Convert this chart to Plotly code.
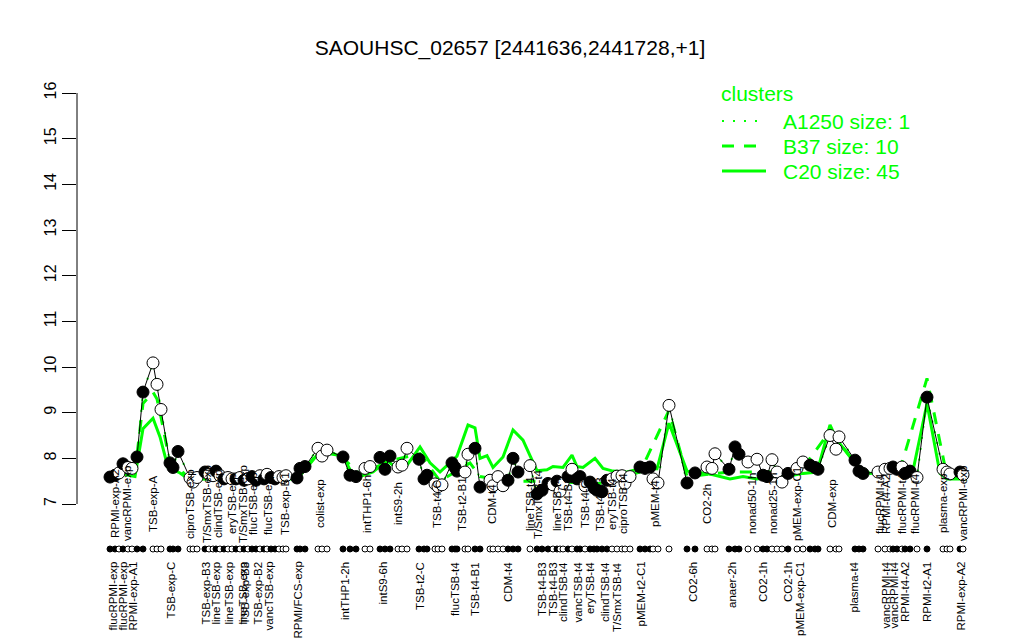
import plotly.graph_objects as go

# ---------------- data ----------------
title_text = "SAOUHSC_02657 [2441636,2441728,+1]"
y_ticks = [7, 8, 9, 10, 11, 12, 13, 14, 15, 16]

# condition positions (arbitrary along-axis units), expression values, filled flag (1=filled)
pos = [0, 5, 9, 13, 18, 22, 27, 33, 43, 47, 51, 60, 63, 68, 80, 83, 87, 95, 99, 103, 106, 110,
       114, 118, 122, 126, 130, 134, 138, 142, 146, 150, 154, 157, 161, 165, 169, 173, 176, 187,
       190, 195, 208, 212, 217, 233, 240, 246, 255, 260, 270, 275, 280, 288, 292, 297, 309, 314,
       317, 325, 328, 332, 342, 345, 347, 355, 358, 365, 370, 380, 383, 388, 393, 398, 403, 408,
       420, 427, 432, 438, 443, 447, 450, 453, 458, 462, 467, 470, 475, 480, 484, 487, 492, 497,
       502, 507, 512, 515, 520, 530, 535, 540, 543, 548, 559, 577, 585, 597, 602, 605, 619, 625,
       629, 638, 647, 653, 657, 662, 667, 672, 678, 687, 693, 700, 705, 708, 720, 726, 729, 745,
       749, 753, 768, 775, 780, 783, 787, 792, 795, 800, 807, 817, 833, 837, 840, 850, 853]
values = [7.59, 7.63, 7.68, 7.88, 7.80, 7.78, 8.03, 9.45, 10.09, 9.62, 9.07, 7.90, 7.80, 8.15,
          7.57, 7.48, 7.58, 7.70, 7.65, 7.62, 7.72, 7.62, 7.55, 7.58, 7.55, 7.55, 7.58, 7.52,
          7.55, 7.60, 7.52, 7.62, 7.55, 7.65, 7.58, 7.55, 7.60, 7.58, 7.62, 7.57, 7.78, 7.82,
          8.22, 8.05, 8.18, 8.03, 7.63, 7.60, 7.78, 7.82, 8.02, 7.76, 8.05, 7.81, 7.85, 8.22,
          7.98, 7.55, 7.63, 7.44, 7.38, 7.42, 7.90, 7.80, 7.72, 7.70, 8.09, 8.22, 7.37, 7.52,
          7.40, 7.60, 7.40, 7.52, 8.00, 7.70, 7.84, 7.22, 7.30, 7.45, 7.42, 7.50, 7.28, 7.45,
          7.60, 7.76, 7.55, 7.60, 7.40, 7.48, 7.35, 7.30, 7.27, 7.52, 7.55, 7.61, 7.62, 7.45,
          7.60, 7.81, 7.78, 7.81, 7.55, 7.46, 9.16, 7.46, 7.68, 7.81, 7.78, 8.10, 7.76, 8.25,
          8.09, 7.92, 7.98, 7.63, 7.60, 7.97, 7.70, 7.48, 7.67, 7.78, 7.92, 7.85, 7.80, 7.76,
          8.50, 8.20, 8.47, 7.96, 7.72, 7.67, 7.70, 7.76, 7.78, 7.81, 7.76, 7.81, 7.67, 7.72,
          7.58, 9.34, 7.76, 7.70, 7.66, 7.70, 7.64]
filled = [1, 1, 0, 1, 0, 0, 1, 1, 0, 0, 0, 1, 1, 1, 0, 0, 0, 1, 0, 0, 1, 0, 1, 0, 0, 1, 0, 1,
          0, 1, 1, 0, 1, 0, 1, 1, 0, 0, 0, 1, 1, 1, 0, 0, 0, 1, 1, 1, 0, 0, 1, 1, 1, 0, 0, 0,
          1, 1, 1, 0, 0, 0, 1, 1, 1, 0, 0, 1, 1, 0, 0, 0, 0, 1, 1, 1, 0, 1, 1, 1, 0, 1, 0, 0,
          1, 0, 1, 1, 0, 1, 1, 1, 1, 1, 0, 0, 0, 0, 0, 1, 1, 1, 0, 0, 0, 1, 1, 0, 0, 0, 1, 1,
          1, 0, 0, 1, 1, 0, 0, 0, 1, 0, 0, 1, 1, 1, 0, 0, 0, 1, 1, 1, 0, 0, 0, 1, 1, 0, 1, 1,
          0, 1, 0, 0, 0, 1, 0]

# cluster mean profiles (read at break points)
c20_pos = [0, 13, 25, 33, 43, 50, 58, 70, 80, 90, 110, 140, 170, 187, 195, 210, 220, 233, 240,
           250, 263, 277, 287, 297, 310, 320, 330, 347, 358, 365, 370, 377, 383, 393, 403, 413,
           420, 427, 437, 443, 453, 462, 467, 473, 485, 493, 503, 517, 530, 547, 559, 577, 587,
           603, 620, 633, 647, 660, 677, 693, 707, 720, 727, 747, 760, 777, 790, 803, 817, 830,
           837, 857]
c20_val = [7.55, 7.65, 7.60, 8.65, 8.88, 8.47, 7.80, 7.68, 7.52, 7.55, 7.55, 7.50, 7.55, 7.55,
           7.75, 8.15, 8.10, 8.05, 7.75, 7.60, 7.70, 7.95, 7.78, 7.85, 8.25, 7.90, 7.70, 8.05,
           8.73, 8.67, 8.00, 8.06, 7.80, 8.03, 8.62, 8.40, 8.06, 7.73, 7.75, 7.82, 7.80, 8.07,
           7.82, 7.80, 8.00, 7.78, 7.72, 7.70, 7.77, 7.77, 8.77, 7.72, 7.70, 7.64, 7.55, 7.60,
           7.55, 7.60, 7.60, 7.67, 7.70, 8.73, 8.40, 7.85, 7.67, 7.70, 7.80, 7.73, 9.20, 7.67,
           7.55, 7.55]
b37_pos = [0, 25, 33, 43, 47, 51, 60, 70, 80, 190, 210, 233, 250, 280, 310, 330, 360, 370,
           400, 430, 490, 530, 559, 577, 620, 690, 720, 750, 790, 817, 837, 857]
b37_val = [7.60, 7.70, 9.20, 9.45, 9.30, 8.90, 7.90, 7.75, 7.55, 7.60, 8.20, 8.00, 7.65, 7.95,
           8.10, 7.50, 7.90, 7.60, 7.50, 7.50, 7.45, 7.70, 9.05, 7.60, 7.70, 7.70, 8.60, 7.75,
           7.75, 9.75, 7.60, 7.60]

top_label_pos = [5, 17, 43, 80, 97, 108, 122, 133, 143, 158, 175, 210, 257, 288, 327, 352, 382,
                 420, 428, 447, 458, 475, 490, 502, 513, 545, 597, 642, 663, 687, 722, 770, 776,
                 792, 805, 833, 853]
top_labels = ["RPMI-exp-A2", "vancRPMI-exp", "TSB-exp-A", "ciproTSB-exp", "T/SmxTSB-exp",
              "clindTSB-exp", "eryTSB-exp", "T/SmxTSB-exp", "flucTSB-exp", "flucTSB-exp",
              "TSB-exp-B1", "colist-exp", "intTHP1-6h", "intS9-2h", "TSB-t4-C", "TSB-t2-B1",
              "CDM-t4", "lineTSB-t4", "T/SmxTSB-t4", "lineTSB-t4", "TSB-t4-B2", "TSB-t4-C",
              "TSB-t4-B3", "eryTSB-t4", "ciproTSB-t4", "pMEM-t4", "CO2-2h", "nonad50-1h",
              "nonad25-1h", "pMEM-exp-C1", "CDM-exp", "flucRPMI-t4", "RPMI-t4-A2",
              "flucRPMI-t4", "flucRPMI-t4", "plasma-exp", "vancRPMI-exp"]

bottom_label_pos = [2, 12, 22, 60, 95, 105, 118, 132, 134, 147, 158, 187, 235, 272, 310, 345,
                    365, 398, 432, 443, 453, 467, 480, 495, 507, 530, 583, 622, 653, 678, 690,
                    743, 775, 783, 795, 817, 850]
bottom_labels = ["flucRPMI-exp", "flucRPMI-exp", "RPMI-exp-A1", "TSB-exp-C", "TSB-exp-B3",
                 "lineTSB-exp", "lineTSB-exp", "lineTSB-exp", "TSB-exp-B3", "TSB-exp-B2",
                 "vancTSB-exp", "RPMI/FCS-exp", "intTHP1-2h", "intS9-6h", "TSB-t2-C",
                 "flucTSB-t4", "TSB-t4-B1", "CDM-t4", "TSB-t4-B3", "TSB-t4-B3", "clindTSB-t4",
                 "vancTSB-t4", "eryTSB-t4", "clindTSB-t4", "T/SmxTSB-t4", "pMEM-t2-C1",
                 "CO2-6h", "anaer-2h", "CO2-1h", "CO2-1h", "pMEM-exp-C1", "plasma-t4",
                 "vancRPMI-t4", "vancRPMI-t4", "RPMI-t4-A2", "RPMI-t2-A1", "RPMI-exp-A2"]

legend_title = "clusters"
cluster_names = ["A1250 size: 1", "B37 size: 10", "C20 size: 45"]

# ---------------- layout constants (screen pixels) ----------------
FONT = "Liberation Sans, Arial, Helvetica, sans-serif"
GREEN = "#00FF00"
OFF = 8                       # default page margin around the plot div
W, H = 1024 - OFF, 640 - OFF  # figure size
AXIS_X = 77                   # screen x of the y-axis line
LEFT = AXIS_X - OFF
PX_PER_Y = 411 / 9.0
Y7_PX, Y16_PX = 504 - OFF, 93 - OFF
y_lo = 7 - (H - Y7_PX) / PX_PER_Y
y_hi = 16 + Y16_PX / PX_PER_Y
x_lo = -(110 - AXIS_X)
x_hi = x_lo + (W - LEFT)

def y_of(screen_py):
    return 7 - (screen_py - OFF - Y7_PX) / PX_PER_Y

def px_paper(sx):
    return (sx - AXIS_X) / (W - LEFT)

def py_paper(sy):
    return 1 - (sy - OFF) / H

RUG_Y = y_of(549)
BOTTOM_LABEL_Y = y_of(560)
DASH_B37 = "12px,10px"
DOT_A = "2px,9px"

fig = go.Figure()

# cluster lines
fig.add_trace(go.Scatter(x=pos, y=values, mode="lines", showlegend=False,
                         line=dict(color=GREEN, width=2, dash=DOT_A), hoverinfo="skip"))
fig.add_trace(go.Scatter(x=b37_pos, y=b37_val, mode="lines", showlegend=False,
                         line=dict(color=GREEN, width=3, dash=DASH_B37), hoverinfo="skip"))
fig.add_trace(go.Scatter(x=c20_pos, y=c20_val, mode="lines", showlegend=False,
                         line=dict(color=GREEN, width=3), hoverinfo="skip"))

# gene profile
fill_cols = ["black" if f else "white" for f in filled]
fig.add_trace(go.Scatter(x=pos, y=values, mode="lines+markers", showlegend=False,
                         line=dict(color="black", width=1),
                         marker=dict(size=12, color=fill_cols, line=dict(color="black", width=1))))

# rug of conditions
fig.add_trace(go.Scatter(x=pos, y=[RUG_Y] * len(pos), mode="markers", showlegend=False,
                         marker=dict(size=6, color=fill_cols, line=dict(color="black", width=1))))

annotations = []
for xp, t in zip(top_label_pos, top_labels):
    annotations.append(dict(x=xp, y=7, xref="x", yref="y", text=t, textangle=-90,
                            showarrow=False, xanchor="center", yanchor="middle",
                            font=dict(family=FONT, size=11.5, color="black")))
for xp, t in zip(bottom_label_pos, bottom_labels):
    annotations.append(dict(x=xp, y=BOTTOM_LABEL_Y, xref="x", yref="y", text=t, textangle=-90,
                            showarrow=False, xanchor="center", yanchor="top",
                            font=dict(family=FONT, size=11.5, color="black")))

# legend (drawn by hand, R style)
shapes = [dict(type="line", xref="paper", yref="y", x0=0, x1=0, y0=y_ticks[0],
               y1=y_ticks[-1], line=dict(color="black", width=1))]
annotations.append(dict(x=px_paper(719), y=py_paper(93), xref="paper", yref="paper",
                        text=legend_title, showarrow=False, xanchor="left", yanchor="middle",
                        font=dict(family=FONT, size=21, color=GREEN)))
leg_rows = [121, 146, 171]
leg_dash = [DOT_A, DASH_B37, "solid"]
leg_width = [2, 3, 3]
for name, row, dsh, wd in zip(cluster_names, leg_rows, leg_dash, leg_width):
    shapes.append(dict(type="line", xref="paper", yref="paper",
                       x0=px_paper(722), x1=px_paper(766), y0=py_paper(row), y1=py_paper(row),
                       line=dict(color=GREEN, width=wd, dash=dsh)))
    annotations.append(dict(x=px_paper(781), y=py_paper(row), xref="paper", yref="paper",
                            text=name, showarrow=False, xanchor="left", yanchor="middle",
                            font=dict(family=FONT, size=21, color=GREEN)))

fig.update_layout(
    width=W, height=H,
    margin=dict(l=LEFT, r=0, t=0, b=0, autoexpand=False),
    paper_bgcolor="white", plot_bgcolor="white",
    title=dict(text=title_text, x=(510 - OFF) / W, xanchor="center", xref="container",
               y=py_paper(48), yanchor="middle", yref="container",
               font=dict(family=FONT, size=21, color="black")),
    xaxis=dict(range=[x_lo, x_hi], visible=False),
    yaxis=dict(range=[y_lo, y_hi], tickvals=y_ticks, ticktext=[str(v) for v in y_ticks],
               ticks="outside", ticklen=14, tickcolor="black", tickwidth=1,
               tickangle=-90, showgrid=False, zeroline=False, showline=False,
               automargin=False,
               tickfont=dict(family=FONT, size=16, color="black")),
    annotations=annotations,
    shapes=shapes,
    showlegend=False,
)

fig.write_html("out.html")
